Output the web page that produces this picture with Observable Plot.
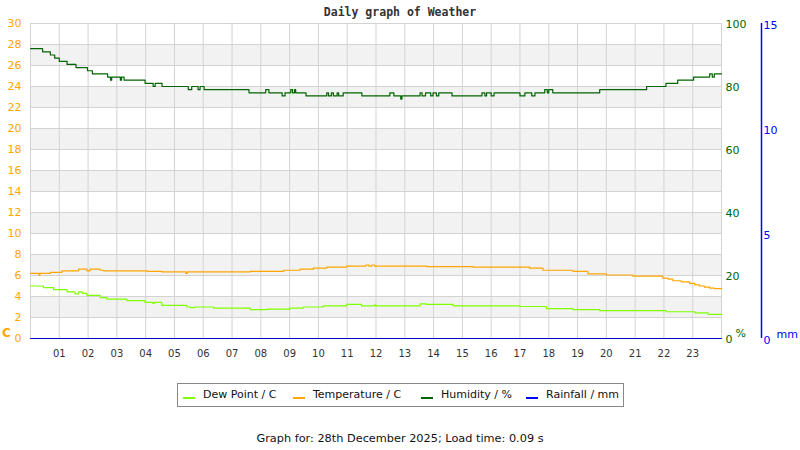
<!DOCTYPE html>
<html>
<head>
<meta charset="utf-8">
<script src="https://cdn.jsdelivr.net/npm/d3@7"></script>
<script src="https://cdn.jsdelivr.net/npm/@observablehq/plot@0.6"></script>
<style>
  body { margin:0; background:#fff; }
  #wrap { position:relative; width:800px; height:450px; overflow:hidden; font-family:"DejaVu Sans", sans-serif; }
  #title { position:absolute; top:5px; left:0; width:800px; text-align:center; font:bold 11.5px "DejaVu Sans Mono", monospace; color:#333; }
  #chart { position:absolute; top:0; left:0; }
  #legend { position:absolute; left:177px; top:383px; width:445px; height:22px; border:1px solid #888; background:#fff; font-size:11px; color:#111; }
  .item { position:absolute; top:0; height:22px; line-height:22px; white-space:nowrap; }
  .sw { position:absolute; width:12px; height:2px; top:13px; }
  #footer { position:absolute; top:432px; left:0; width:800px; text-align:center; font-size:11.3px; color:#111; }
</style>
</head>
<body>
<div id="wrap">
  <div id="chart"></div>
  <div id="title"></div>
  <div id="legend"></div>
  <div id="footer"></div>
</div>
<script>
// ---- Data ----
const titleText = "Daily graph of Weather";
const footerText = "Graph for: 28th December 2025; Load time: 0.09 s";

const hourTicks = ["01","02","03","04","05","06","07","08","09","10","11","12","13","14","15","16","17","18","19","20","21","22","23"];
const tempTicks = [0,2,4,6,8,10,12,14,16,18,20,22,24,26,28,30];
const humTicks = [0,20,40,60,80,100];
const rainTicks = [0,5,10,15];

// Humidity (%) — hour of day, value
const humTimes  = [0.00,0.42,0.69,0.84,1.00,1.27,1.58,1.98,2.15,2.68,2.78,2.82,3.12,3.16,3.25,3.98,4.26,4.33,4.57,5.48,5.60,5.82,5.89,6.03,7.59,8.17,8.28,8.74,8.84,9.04,9.10,9.17,9.21,9.57,10.29,10.35,10.45,10.52,10.65,10.70,10.86,11.51,12.48,12.62,12.86,12.90,13.53,13.60,13.72,13.90,13.98,14.10,14.18,14.64,15.68,15.78,15.84,16.00,16.10,17.00,17.17,17.41,17.52,17.86,17.95,18.00,18.14,19.77,21.40,22.07,22.48,23.03,23.59,23.68,23.75,24.00];
const humValues = [92,91,90,89,88,87,86,85,84,83,82,83,82,83,82,81,80,81,80,79,80,79,80,79,78,79,78,77,78,79,78,79,78,77,78,77,78,77,78,77,78,77,78,77,76,77,78,77,78,77,78,77,78,77,78,77,78,77,78,77,78,77,78,79,78,79,78,79,80,81,82,83,84,83,84,84];

// Temperature (C)
const tempTimes  = [0.00,0.30,0.33,0.69,1.09,1.67,1.96,2.07,2.42,2.54,4.05,4.56,5.40,5.45,7.63,8.79,9.36,9.82,10.29,10.98,11.65,11.75,11.85,11.95,13.76,15.37,17.34,17.80,18.84,19.36,20.00,20.92,21.96,22.15,22.31,22.60,22.89,23.07,23.24,23.41,23.59,23.76,24.00];
const tempValues = [6.2,6.0,6.2,6.3,6.45,6.6,6.45,6.6,6.5,6.45,6.4,6.35,6.2,6.35,6.4,6.5,6.6,6.7,6.8,6.9,7.0,6.9,7.0,6.9,6.85,6.8,6.7,6.5,6.4,6.15,6.05,5.95,5.75,5.65,5.5,5.4,5.25,5.1,5.0,4.9,4.8,4.75,4.75];

// Dew point (C)
const dewTimes  = [0.00,0.45,0.80,1.27,1.55,1.67,1.80,1.96,2.42,2.65,3.35,3.98,4.25,4.30,4.56,5.43,5.55,5.70,6.36,7.63,8.21,9.01,9.48,10.17,10.98,11.50,11.95,12.00,13.53,13.76,14.68,17.00,17.92,18.84,19.77,22.08,23.08,23.53,24.00];
const dewValues = [5.0,4.85,4.65,4.45,4.25,4.45,4.3,4.1,3.9,3.75,3.6,3.45,3.35,3.45,3.15,3.0,2.95,3.0,2.9,2.75,2.8,2.9,3.0,3.1,3.25,3.1,3.2,3.1,3.3,3.25,3.1,3.05,2.85,2.75,2.65,2.55,2.45,2.3,2.3];

// Rainfall (mm)
const rainTimes  = [0, 24];
const rainValues = [0, 0];

// ---- Build ----
const TEMP_MAX = 30, HUM_MAX = 100, RAIN_MAX = 15;
const rows = (t, v) => t.map((h, i) => ({h, v: v[i]}));
const hum = rows(humTimes, humValues);
const temp = rows(tempTimes, tempValues);
const dew = rows(dewTimes, dewValues);
const rain = rows(rainTimes, rainValues);
const bands = tempTicks.filter((d, i) => i % 2 === 1 && d < TEMP_MAX).map(d => ({y1: d, y2: d + 2}));
const hourLines = d3.range(0, 25);
const hourLabels = hourTicks.map((s, i) => ({h: i + 1, s}));

const colDew = "#7fff00", colTemp = "#ffa500", colHum = "#006400", colRain = "#0000ff";
const grid = "#d3d3d3";

const chart = Plot.plot({
  width: 800,
  height: 365,
  marginTop: 23,
  marginBottom: 27,
  marginLeft: 30,
  marginRight: 79,
  x: {domain: [0, 24], axis: null},
  y: {domain: [0, TEMP_MAX], axis: null},
  style: {background: "transparent", fontFamily: "DejaVu Sans, sans-serif", overflow: "visible"},
  marks: [
    Plot.rect(bands, {x1: 0, x2: 24, y1: "y1", y2: "y2", fill: "#f2f2f2"}),
    Plot.ruleY(tempTicks, {stroke: grid, strokeWidth: 1}),
    Plot.ruleX(hourLines, {stroke: grid, strokeWidth: 1}),
    Plot.line(dew, {x: "h", y: "v", curve: "step-after", stroke: colDew, strokeWidth: 1.2}),
    Plot.line(temp, {x: "h", y: "v", curve: "step-after", stroke: colTemp, strokeWidth: 1.2}),
    Plot.line(hum, {x: "h", y: d => d.v * TEMP_MAX / HUM_MAX, curve: "step-after", stroke: colHum, strokeWidth: 1.2}),
    Plot.line(rain, {x: "h", y: d => d.v * TEMP_MAX / RAIN_MAX, curve: "step-after", stroke: "#0000cc", strokeWidth: 1.2}),
    // left axis (temperature)
    Plot.text(tempTicks, {x: 0, y: d => d, text: d => String(d), textAnchor: "end", dx: -9, fill: colTemp, fontSize: 11}),
    Plot.text(["C"], {x: 0, y: 0, text: d => d, dx: -24, dy: -5, fill: colTemp, fontSize: 12, fontWeight: "bold"}),
    // bottom hour labels
    Plot.text(hourLabels, {x: "h", y: 0, text: "s", dy: 15, fill: "#333", fontSize: 10}),
    // right axis (humidity)
    Plot.text(humTicks, {x: 24, y: d => d * TEMP_MAX / HUM_MAX, text: d => String(d), textAnchor: "start", dx: 4, dy: 1, fill: colHum, fontSize: 11}),
    Plot.text(["%"], {x: 24, y: 0, text: d => d, textAnchor: "start", dx: 14, dy: -5, fill: colHum, fontSize: 11}),
    // rainfall axis
    Plot.ruleX([24], {y1: 0, y2: TEMP_MAX, dx: 40, stroke: colRain, strokeWidth: 1.5}),
    Plot.text(rainTicks, {x: 24, y: d => d * TEMP_MAX / RAIN_MAX, text: d => String(d), textAnchor: "start", dx: 42, dy: 2, fill: colRain, fontSize: 11}),
    Plot.text(["mm"], {x: 24, y: 0, text: d => d, textAnchor: "start", dx: 55, dy: -4, fill: colRain, fontSize: 11})
  ]
});
document.getElementById("chart").appendChild(chart);
document.getElementById("title").textContent = titleText;
document.getElementById("footer").textContent = footerText;

// legend
const legendItems = [
  {label: "Dew Point / C", color: colDew, left: 5},
  {label: "Temperature / C", color: colTemp, left: 115},
  {label: "Humidity / %", color: colHum, left: 243},
  {label: "Rainfall / mm", color: colRain, left: 348}
];
const lg = document.getElementById("legend");
legendItems.forEach(it => {
  const sw = document.createElement("div");
  sw.className = "sw";
  sw.style.left = it.left + "px";
  sw.style.background = it.color;
  lg.appendChild(sw);
  const tx = document.createElement("div");
  tx.className = "item";
  tx.style.left = (it.left + 20) + "px";
  tx.textContent = it.label;
  lg.appendChild(tx);
});
</script>
</body>
</html>
